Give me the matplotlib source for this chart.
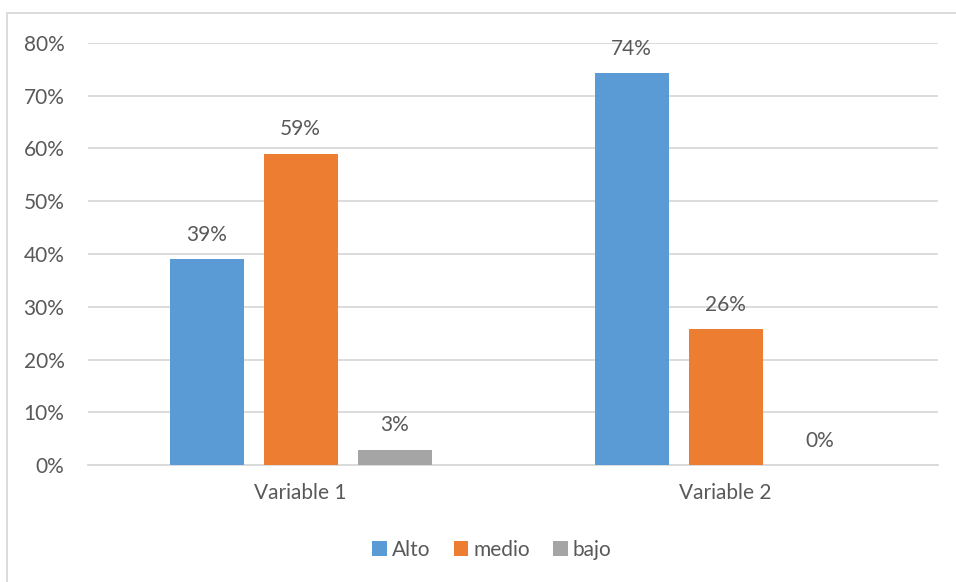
import numpy as np
import matplotlib
matplotlib.use("Agg")
import matplotlib.pyplot as plt
from matplotlib.patches import Rectangle
from matplotlib.ticker import PercentFormatter

categories = ["Variable 1", "Variable 2"]
series = ["Alto", "medio", "bajo"]
alto = [0.39, 0.743]
medio = [0.59, 0.257]
bajo = [0.029, 0.0]
colors = ["#5B9BD5", "#ED7D31", "#A5A5A5"]

plt.rcParams['font.family'] = ['Lato', 'DejaVu Sans']
text_col = "#595959"
fs = 15

fig = plt.figure(figsize=(9.56, 5.82), dpi=100)
# outer chart border (only left and top are visible in the crop)
fig.patches.append(Rectangle((7 / 956, -0.1), 1.2, 1 - 13 / 582 + 0.1,
                             transform=fig.transFigure, fill=False,
                             edgecolor="#D9D9D9", linewidth=1.3))

ax = fig.add_axes([88 / 956, 1 - 465 / 582, 850 / 956, 422 / 582])

x = np.arange(len(categories))
width = 74 / 425
step = 94 / 425
for i, (name, vals) in enumerate(zip(series, [alto, medio, bajo])):
    pos = x + (i - 1) * step
    ax.bar(pos, vals, width, color=colors[i], label=name, zorder=3)
    for p, v in zip(pos, vals):
        ax.annotate(f"{v:.0%}", (p, v), xytext=(0, 17.5), textcoords="offset points",
                    ha="center", va="center", fontsize=fs, color=text_col)

ax.set_xlim(-0.5, 1.5)
ax.set_ylim(0, 0.8)
ax.set_yticks(np.arange(0, 0.81, 0.1))
ax.yaxis.set_major_formatter(PercentFormatter(1.0, decimals=0))
ax.set_xticks(x)
ax.set_xticklabels(categories)
ax.grid(axis="y", color="#D9D9D9", linewidth=1.3, zorder=0)
for s in ["top", "right", "left"]:
    ax.spines[s].set_visible(False)
ax.spines["bottom"].set_color("#D9D9D9")
ax.spines["bottom"].set_linewidth(1.3)
ax.tick_params(axis="both", length=0, labelsize=fs, colors=text_col)
ax.tick_params(axis="y", pad=17)
ax.tick_params(axis="x", pad=13)

ax.legend(loc="center", bbox_to_anchor=(492 / 956, 1 - 550 / 582),
          bbox_transform=fig.transFigure, ncol=3, frameon=False,
          fontsize=fs, handlelength=0.7, handleheight=0.7,
          handletextpad=0.25, columnspacing=1.1, labelcolor=text_col)

fig.savefig("out.png", dpi=100)
